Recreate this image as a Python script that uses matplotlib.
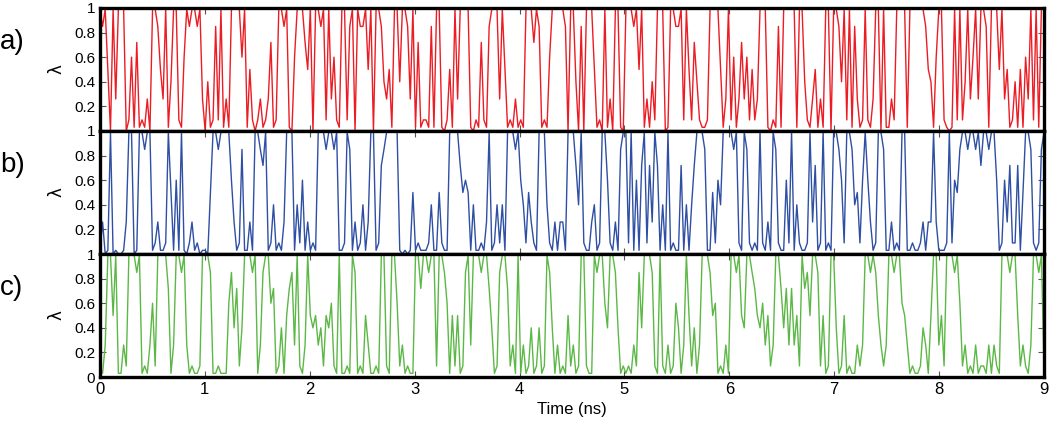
import numpy as np
import matplotlib
matplotlib.use('Agg')
import matplotlib.pyplot as plt

# lambda traces, one digit per 0.025 ns
lam_a = ("9895093999026171213099853914992169899893041282913199996915202312371299891069997590998929"
         "36219928909889590998435199499839171221819910251939999102172189993951213121999798121699999809"
         "94080999512091309910999895913142999019988929527421129999513926137362523999102181999991994213"
         "5131990998492918312921399091132999919999998541699210192924936939981999593512415163929199")
lam_b = ("1301901001399019989912311295161910231201105998999963128113199879124121399914261312199989"
         "98911298131241399127899999101015121112411521199997565141121391242419998964253219994213133199"
         "97492113412996213189929161792739714191211714147999811526499998921982121921319821162914211293"
         "7129121998629984526963129981131219911211231339311129265899899897998996126372271599821289")
lam_c = ("2139959113299989121362999971399893121129998112111684724999891389967124157839213954534254"
         "62191121981215311219921996231211997998992998615251289399989974128997231913124124129841312152"
         "31299211989964998412121328499982192131264139524139998561213199895499875463523997473735297859"
         "9825129941251211323998985323998996531211243159935299989623121312213132199989952321399892")

# lambda level for each digit
levels = [0.0, 0.03, 0.09, 0.26, 0.4, 0.5, 0.6, 0.72, 0.85, 0.99]

colors = ['#ec1c24', '#2e4fa3', '#5cb846']
panel_labels = ['a)', 'b)', 'c)']
x_ticks = [0, 1, 2, 3, 4, 5, 6, 7, 8, 9]

traces = []
for s in [lam_a, lam_b, lam_c]:
    traces.append(np.array([levels[int(c)] for c in s]))

fig, axes = plt.subplots(3, 1, figsize=(10.5, 4.42), dpi=100, sharex=True)
fig.subplots_adjust(left=0.0952, right=0.9943, top=0.982, bottom=0.147, hspace=0)

for i, ax in enumerate(axes):
    y = traces[i]
    t = np.linspace(0, 9, len(y))
    ax.plot(t, y, color=colors[i], lw=1.0)
    ax.set_xlim(0, 9)
    ax.set_ylim(0, 1)
    if i < 2:
        ax.set_yticks([0.2, 0.4, 0.6, 0.8, 1])
        ax.set_yticklabels(['0.2', '0.4', '0.6', '0.8', '1'], family='Liberation Sans')
    else:
        ax.set_yticks([0, 0.2, 0.4, 0.6, 0.8, 1])
        ax.set_yticklabels(['0', '0.2', '0.4', '0.6', '0.8', '1'], family='Liberation Sans')
    ax.tick_params(direction='in', top=True, right=True, length=4, color='#555555',
                   labelsize=11)
    for sp in ax.spines.values():
        sp.set_linewidth(2.4)
        sp.set_zorder(3)
    ax.set_ylabel('λ', fontsize=12, family='DejaVu Sans', labelpad=6)
    ax.text(-0.106, 0.72, panel_labels[i], transform=ax.transAxes, fontsize=20,
            family='Liberation Sans', ha='left', va='center')

axes[2].set_xticks(x_ticks)
axes[2].set_xticklabels([str(v) for v in x_ticks], family='Liberation Sans', fontsize=12)
axes[2].set_xlabel('Time (ns)', fontsize=12, family='Liberation Sans')

plt.savefig('out.png', dpi=100)
